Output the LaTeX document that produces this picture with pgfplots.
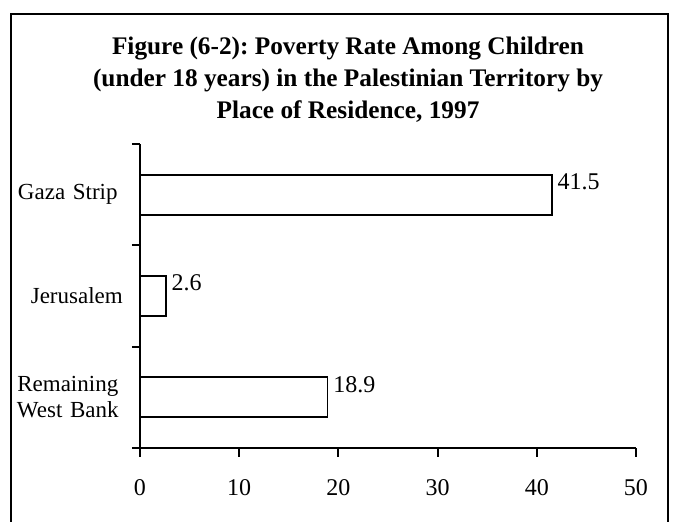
\documentclass[border=0pt]{standalone}
\usepackage{pgfplots}
\pgfplotsset{compat=1.18}
\usepackage{fontspec}
\setmainfont{Liberation Serif}
\frenchspacing
\begin{document}
\begin{tikzpicture}[x=1pt,y=1pt]
\useasboundingbox (0,0) rectangle (681,522);
\draw[line width=1.8pt] (11,-5) -- (11,508) -- (668,508) -- (668,-5);
\node[align=center, anchor=base, font=\fontsize{25.3}{32}\selectfont\bfseries] at (348,403)
  {Figure (6-2): Poverty Rate Among Children\\(under 18 years) in the Palestinian Territory by\\Place of Residence, 1997};
\begin{axis}[
  at={(140pt,74pt)}, anchor=south west,
  scale only axis, width=496pt, height=304pt,
  xbar, bar width=40pt,
  xmin=0, xmax=50, ymin=-0.5, ymax=2.5,
  axis x line*=bottom, axis y line*=left,
  axis line style={line width=2pt, -},
  xtick={0,10,20,30,40,50},
  ytick={0,1,2},
  yticklabels={{Remaining\\West Bank},{\hspace*{18pt}Jerusalem},{Gaza Strip}},
  minor ytick={-0.5,0.5,1.5,2.5},
  tick align=outside,
  major tick length=9pt, minor tick length=8pt,
  major y tick style={draw=none},
  major x tick style={line width=2pt, black},
  minor y tick style={line width=2pt, black},
  /pgf/number format/assume math mode=true,
  xticklabel style={font=\fontsize{24}{26}\selectfont, anchor=north, inner sep=0pt, yshift=-22pt},
  yticklabel style={font=\fontsize{23}{26}\selectfont, align=center, text width=112pt, anchor=east, inner sep=0pt, xshift=-7pt},
  nodes near coords,
  nodes near coords style={font=\fontsize{24}{26}\selectfont, anchor=west, inner sep=0pt, xshift=5pt, yshift=13pt,
    /pgf/number format/fixed, /pgf/number format/precision=1, /pgf/number format/fixed zerofill},
  clip=false,
]
\addplot[draw=black, fill=white, line width=1.8pt] coordinates {(18.9,0) (2.6,1) (41.5,2)};
\end{axis}
\end{tikzpicture}
\end{document}
